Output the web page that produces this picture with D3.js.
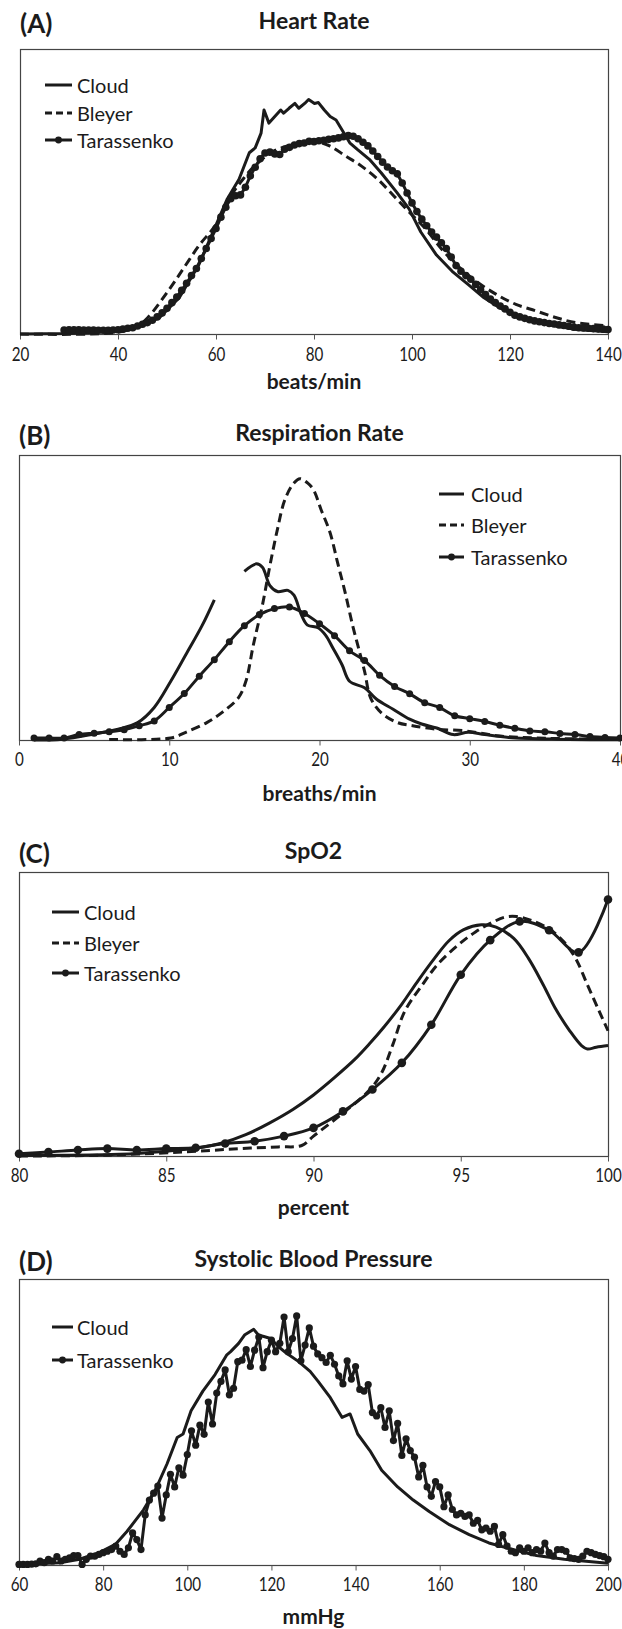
<!DOCTYPE html>
<html>
<head>
<meta charset="utf-8">
<script src="https://cdnjs.cloudflare.com/ajax/libs/d3/7.8.5/d3.min.js"></script>
<style>
  body { margin: 0; background: #fff; }
  svg { display: block; font-family: Lato, "Open Sans", sans-serif; }
</style>
</head>
<body>
<svg id="fig" width="622" height="1629"></svg>
<script>
// (A) heart rate, beats/min
const hrTicks = [20, 40, 60, 80, 100, 120, 140];
const hrCloudX = [20, 30, 40, 45, 48.5, 52.5, 56.5, 60, 62.3, 64.7, 66.8, 68, 69.2, 69.8, 70.8, 72, 73.2, 73.8, 74.9, 76.1, 76.9, 78.1, 78.9, 80.1, 80.9, 82.1, 83.3, 84.5, 85.7, 87.3, 88.9, 91.3, 93.7, 96.9, 99.4, 101.8, 105, 108.2, 111.5, 114.7, 117.9, 121.1, 125.1, 129.2, 133.2, 136.5, 140];
const hrCloudY = [0, 0.2, 1.0, 2.9, 5.8, 12.7, 24.3, 38.2, 47.4, 54.3, 63.6, 65.3, 70.5, 78.6, 74.0, 76.3, 78.6, 77.5, 79.2, 80.9, 79.2, 80.9, 82.3, 80.9, 81.2, 78.6, 76.3, 75.1, 71.7, 67.1, 64.7, 61.3, 56.6, 49.7, 43.9, 35.8, 27.7, 22.0, 17.3, 12.7, 9.2, 6.9, 4.6, 2.9, 1.7, 1.2, 0.8];
const hrBleyerX = [20, 40, 44, 46.1, 50.2, 53.4, 56.6, 59.9, 63.1, 65.5, 67.9, 71.2, 74.4, 77.6, 80.9, 83.3, 86.5, 89.7, 93, 96.2, 99.4, 102.7, 105.9, 109.1, 113.1, 117.2, 121.2, 125.3, 129.3, 133.4, 140];
const hrBleyerY = [0, 0.6, 2.8, 5.8, 15.0, 23.1, 31.2, 38.2, 48.6, 54.3, 59.0, 63.6, 65.9, 67.1, 67.3, 65.9, 62.4, 58.9, 54.3, 48.6, 42.8, 37.0, 30.1, 24.3, 18.5, 13.9, 10.4, 8.1, 5.8, 4.0, 2.9];
const hrTarX = d3.range(29, 141);
const hrTarY = [1.4, 1.5, 1.5, 1.5, 1.4, 1.4, 1.4, 1.3, 1.3, 1.3, 1.4, 1.5, 1.7, 2.0, 2.2, 2.8, 3.4, 4.0, 4.8, 6.0,
  7.4, 9.0, 11.0, 13.0, 15.3, 17.8, 20.5, 23.0, 26.5, 30.0, 33.5, 37.0, 41.0, 44.5, 47.5, 48.5, 48.8, 51.5, 55.5, 58.5,
  61.5, 63.5, 63.8, 63.2, 63.0, 64.8, 65.5, 66.3, 66.8, 67.0, 67.6, 67.5, 67.8, 68.0, 68.3, 68.5, 68.8, 69.2, 69.6, 69.4,
  68.5, 67.3, 66.0, 64.2, 62.3, 60.3, 58.6, 57.3, 56.2, 53.0, 49.5, 46.0, 43.0, 40.3, 38.0, 35.8, 34.0, 32.0, 30.0, 27.0,
  24.0, 22.0, 20.5, 19.2, 17.4, 15.5, 13.8, 12.3, 11.0, 9.8, 8.8, 7.6, 6.6, 6.0, 5.5, 5.0, 4.6, 4.3, 4.0, 3.7,
  3.5, 3.2, 3.0, 2.7, 2.4, 2.2, 2.1, 2.0, 1.9, 1.8, 1.7, 1.6];

// (B) respiration rate, breaths/min
const rrTicks = [0, 10, 20, 30, 40];
const rrCloudX = [1, 2.9, 5, 6.6, 7.9, 9, 10.1, 11.1, 12.2, 13, 14, 15, 15.8, 16.2, 16.7, 17.2, 17.9, 18.3, 18.8, 19.2, 19.9, 20.4, 20.9, 21.5, 22, 23, 23.8, 24.9, 26, 26.8, 27.8, 28.9, 29.9, 31, 32.6, 35.8, 40];
const rrCloudY = [0, 0.3, 2.1, 3.8, 6.1, 11.4, 20.6, 29.9, 40.3, 49.2, null, 59.2, 61.8, 60.6, 54.2, 52.1, 52.5, 50.8, 43.8, 40.3, 39.4, 36.8, 32.2, 26.4, 20.6, 18.3, 14.3, 10.8, 7.3, 5.6, 4.2, 1.9, 2.7, 1.9, 0.9, 0.3, 0.1];
const rrBleyerX = [6, 10.1, 11.1, 12.5, 13.5, 14.6, 15.1, 15.6, 16.2, 16.7, 17.2, 17.7, 18.3, 18.7, 19.2, 19.6, 20.1, 20.7, 21.2, 21.7, 22.2, 22.6, 23, 23.4, 24.1, 25.2, 26.2, 27.8, 29.7, 31.8, 34.4, 40];
const rrBleyerY = [0.2, 0.7, 2.7, 6.1, 9.6, 14.8, 20.6, 33.4, 47.3, 61.2, 73.9, 84.4, 90.2, 91.7, 90.2, 87.8, 80.9, 72.8, 62.3, 51.9, 40.3, 32.2, 24.1, 14.8, 9.6, 6.1, 5.0, 3.8, 3.2, 1.5, 0.7, 0.2];
const rrTarX = d3.range(1, 41);
const rrTarY = [0.7, 0.7, 0.7, 1.9, 2.4, 2.9, 3.6, 5.0, 6.7, 11.4, 16.3, 22.4, 28.2, 34.5, 40.1, 44.0, 46.1, 46.7, 44.4, 40.8,
  36.6, 31.3, 27.9, 22.7, 18.8, 16.2, 13.1, 11.4, 8.5, 7.5, 6.5, 5.2, 4.1, 3.2, 2.9, 2.3, 1.9, 1.2, 0.9, 0.7];

// (C) SpO2, percent
const spTicks = [80, 85, 90, 95, 100];
const spCloudX = [80, 83.4, 85, 86.1, 86.9, 87.7, 88.5, 89.3, 90, 90.7, 91.4, 91.9, 92.4, 93, 93.5, 94.1, 94.6, 95.1, 95.7, 96.2, 96.8, 97.3, 97.8, 98.2, 98.7, 99.1, 99.3, 99.6, 100];
const spCloudY = [0.2, 0.6, 1.7, 2.9, 4.6, 7.5, 11.6, 16.4, 21.5, 27.5, 34.0, 39.5, 45.5, 53.5, 61.0, 69.5, 75.8, 79.7, 81.4, 80.6, 76.6, 69.6, 60.3, 52.2, 44.1, 38.9, 37.7, 38.3, 38.9];
const spBleyerX = [80, 83, 86.1, 87.5, 88.8, 89.6, 90, 91, 91.9, 92.3, 92.7, 93.1, 93.7, 94.2, 94.9, 95.5, 96.1, 96.5, 96.9, 97.4, 98, 98.5, 98.9, 99.3, 99.7, 100];
const spBleyerY = [0, 0.3, 1.7, 2.6, 3.2, 3.7, 7.0, 15.1, 23.2, 29.0, 39.4, 51.0, 60.3, 67.3, 74.2, 78.9, 82.4, 84.1, 84.3, 82.9, 80.0, 75.4, 69.6, 60.3, 51.0, 44.1];
const spTarX = d3.range(80, 101);
const spTarY = [0.8, 1.4, 2.1, 2.6, 2.1, 2.6, 2.9, 4.4, 5.2, 7.0, 9.9, 15.7, 23.4, 32.8, 46.2, 63.8, 76.0, 82.6, 79.5, 71.7, 90.3];

// (D) systolic blood pressure, mmHg
const bpTicks = [60, 80, 100, 120, 140, 160, 180, 200];
const bpCloudX = [60, 69.7, 74.4, 79.1, 82.9, 85.7, 89.6, 92.4, 95.2, 97.6, 99, 100.9, 103.7, 106.6, 109.4, 110.3, 112.2, 113.6, 115.8, 116.9, 118.4, 119.8, 121.7, 123.6, 126.4, 129.2, 131.1, 134, 136.8, 138.7, 140.5, 143.4, 146.2, 150, 153.7, 157.5, 162.3, 167, 171.7, 177.4, 183, 189.6, 200];
const bpCloudY = [0.2, 0.8, 2.0, 4.3, 7.2, 11.8, 19.3, 26.2, 35.4, 44.6, 45.8, 53.9, 60.8, 66.6, 73.5, 74.6, 77.5, 80.4, 82.4, 80.4, 79.8, 79.2, 76.3, 74.0, 71.2, 67.7, 64.2, 58.5, 51.6, 52.8, 45.8, 40.0, 33.1, 27.3, 22.7, 18.7, 14.1, 10.6, 7.7, 5.4, 3.3, 2.0, 0.6];
const bpTarX = d3.range(60, 201);
const bpTarY = [0.2, 0.2, 0.2, 0.3, 0.4, 1.4, 0.8, 2.0, 1.4, 2.9, 1.4, 2.0, 2.5, 3.3, 3.3, 0.2, 2.0, 3.1, 3.1, 3.7,
  4.3, 4.8, 5.4, 6.6, 4.8, 3.7, 6.0, 11.2, 8.9, 5.4, 17.5, 22.7, 25.1, 27.6, 16.4, 24.5, 31.7, 27.3, 34.0, 31.4,
  38.6, 46.9, 41.9, 48.9, 45.7, 57.0, 49.3, 60.1, 64.2, 68.2, 59.5, 61.8, 71.1, 71.6, 75.3, 69.4, 75.1, 79.7, 69.0, 74.6,
  78.6, 74.6, 77.5, 86.7, 74.6, 79.2, 87.1, 71.4, 76.9, 82.9, 76.5, 73.8, 72.5, 70.8, 73.3, 70.2, 66.1, 63.3, 71.4, 65.0,
  69.4, 61.4, 60.8, 63.1, 53.3, 52.1, 55.0, 48.1, 53.9, 43.5, 49.5, 38.3, 44.1, 40.0, 37.7, 30.8, 34.8, 27.3, 24.0, 29.2,
  27.3, 20.4, 24.5, 19.4, 17.5, 18.1, 17.0, 17.5, 14.6, 15.6, 12.3, 12.9, 11.8, 13.5, 7.2, 10.6, 6.6, 4.8, 4.3, 6.0,
  4.8, 6.0, 4.3, 5.4, 4.8, 7.7, 4.3, 3.1, 5.4, 5.4, 4.8, 2.5, 2.2, 2.0, 3.1, 4.8, 4.3, 3.7, 3.3, 2.9, 2.0];

const ink = "#1b1b1b";
const smooth = d3.curveCatmullRom.alpha(0.5);

const panels = [
  { tag: "(A)", title: "Heart Rate", unit: "beats/min", domain: [20, 140], ticks: hrTicks,
    left: 20, right: 608, top: 49, bottom: 334, titleY: 20, tickY: 354, unitY: 380,
    legend: { x1: 45, x2: 72, tx: 77, ys: [85, 113, 140] }, r: 3.8,
    series: [
      { name: "Cloud", x: hrCloudX, y: hrCloudY, kind: "solid", curve: d3.curveLinear },
      { name: "Bleyer", x: hrBleyerX, y: hrBleyerY, kind: "dash", curve: smooth },
      { name: "Tarassenko", x: hrTarX, y: hrTarY, kind: "dot", curve: d3.curveLinear }
    ] },
  { tag: "(B)", title: "Respiration Rate", unit: "breaths/min", domain: [0, 40], ticks: rrTicks,
    left: 19, right: 620, top: 455, bottom: 740, titleY: 432, tickY: 759, unitY: 792,
    legend: { x1: 439, x2: 464, tx: 471, ys: [494, 525, 557] }, r: 3.5,
    series: [
      { name: "Cloud", x: rrCloudX, y: rrCloudY, kind: "solid", curve: smooth },
      { name: "Bleyer", x: rrBleyerX, y: rrBleyerY, kind: "dash", curve: smooth },
      { name: "Tarassenko", x: rrTarX, y: rrTarY, kind: "dot", curve: smooth }
    ] },
  { tag: "(C)", title: "SpO2", unit: "percent", domain: [80, 100], ticks: spTicks,
    left: 19, right: 608, top: 872, bottom: 1156, titleY: 850, tickY: 1175, unitY: 1206,
    legend: { x1: 52, x2: 79, tx: 84, ys: [912, 943, 973] }, r: 4.3,
    series: [
      { name: "Cloud", x: spCloudX, y: spCloudY, kind: "solid", curve: smooth },
      { name: "Bleyer", x: spBleyerX, y: spBleyerY, kind: "dash", curve: smooth },
      { name: "Tarassenko", x: spTarX, y: spTarY, kind: "dot", curve: smooth }
    ] },
  { tag: "(D)", title: "Systolic Blood Pressure", unit: "mmHg", domain: [60, 200], ticks: bpTicks,
    left: 19, right: 608, top: 1279, bottom: 1565, titleY: 1258, tickY: 1584, unitY: 1615,
    legend: { x1: 52, x2: 73, tx: 77, ys: [1327, 1360] }, r: 3.6,
    series: [
      { name: "Cloud", x: bpCloudX, y: bpCloudY, kind: "solid", curve: d3.curveLinear },
      { name: "Tarassenko", x: bpTarX, y: bpTarY, kind: "dot", curve: d3.curveLinear }
    ] }
];

const svg = d3.select("#fig");

panels.forEach(function (p) {
  const g = svg.append("g");
  const x = d3.scaleLinear().domain(p.domain).range([p.left, p.right]);
  const y = d3.scaleLinear().domain([0, 100]).range([p.bottom, p.top]);

  // panel letter and title
  g.append("text").attr("x", p.left).attr("y", p.titleY + 3)
    .attr("dominant-baseline", "central").attr("font-size", 26).attr("font-weight", 700)
    .attr("fill", ink).text(p.tag);
  g.append("text").attr("x", (p.left + p.right) / 2).attr("y", p.titleY)
    .attr("text-anchor", "middle").attr("dominant-baseline", "central")
    .attr("font-size", 23).attr("font-weight", 700).attr("fill", ink).text(p.title);

  // frame
  g.append("rect").attr("x", p.left + 0.5).attr("y", p.top + 0.5)
    .attr("width", p.right - p.left).attr("height", p.bottom - p.top)
    .attr("fill", "none").attr("stroke", "#444").attr("stroke-width", 1.2);

  // x axis; labels narrowed to the width of the original's condensed face
  const ax = g.append("g").attr("transform", "translate(0," + (p.bottom + 0.5) + ")")
    .call(d3.axisBottom(x).tickValues(p.ticks).tickSize(5).tickSizeOuter(0));
  ax.select(".domain").remove();
  ax.selectAll(".tick line").attr("stroke", "#555");
  ax.selectAll(".tick text").attr("y", p.tickY - p.bottom).attr("dy", "0.35em")
    .attr("transform", "scale(0.8,1)")
    .attr("font-size", 19).attr("font-family", "Lato, 'Open Sans', sans-serif").attr("fill", ink);

  g.append("text").attr("x", (p.left + p.right) / 2).attr("y", p.unitY)
    .attr("text-anchor", "middle").attr("dominant-baseline", "central")
    .attr("font-size", 21).attr("font-weight", 700).attr("fill", ink).text(p.unit);

  // series
  p.series.forEach(function (s) {
    const pts = s.x.map(function (v, i) { return [v, s.y[i]]; });
    const line = d3.line()
      .defined(function (d) { return d[1] !== null; })
      .x(function (d) { return x(d[0]); })
      .y(function (d) { return y(d[1]); })
      .curve(s.curve);
    g.append("path").datum(pts)
      .attr("fill", "none").attr("stroke", ink)
      .attr("stroke-width", 3)
      .attr("stroke-linejoin", "round")
      .attr("stroke-dasharray", s.kind === "dash" ? "9,5" : null)
      .attr("d", line);
    if (s.kind === "dot") {
      g.append("g").selectAll("circle").data(pts).enter().append("circle")
        .attr("cx", function (d) { return x(d[0]); })
        .attr("cy", function (d) { return y(d[1]); })
        .attr("r", p.r).attr("fill", ink);
    }
  });

  // legend
  p.series.forEach(function (s, i) {
    const ly = p.legend.ys[i];
    g.append("line").attr("x1", p.legend.x1).attr("x2", p.legend.x2)
      .attr("y1", ly).attr("y2", ly)
      .attr("stroke", ink).attr("stroke-width", 3)
      .attr("stroke-dasharray", s.kind === "dash" ? "7,4" : null);
    if (s.kind === "dot") {
      g.append("circle").attr("cx", (p.legend.x1 + p.legend.x2) / 2).attr("cy", ly)
        .attr("r", 3.4).attr("fill", ink);
    }
    g.append("text").attr("x", p.legend.tx).attr("y", ly)
      .attr("dominant-baseline", "central").attr("font-size", 20)
      .attr("fill", ink).text(s.name);
  });
});
</script>
</body>
</html>
